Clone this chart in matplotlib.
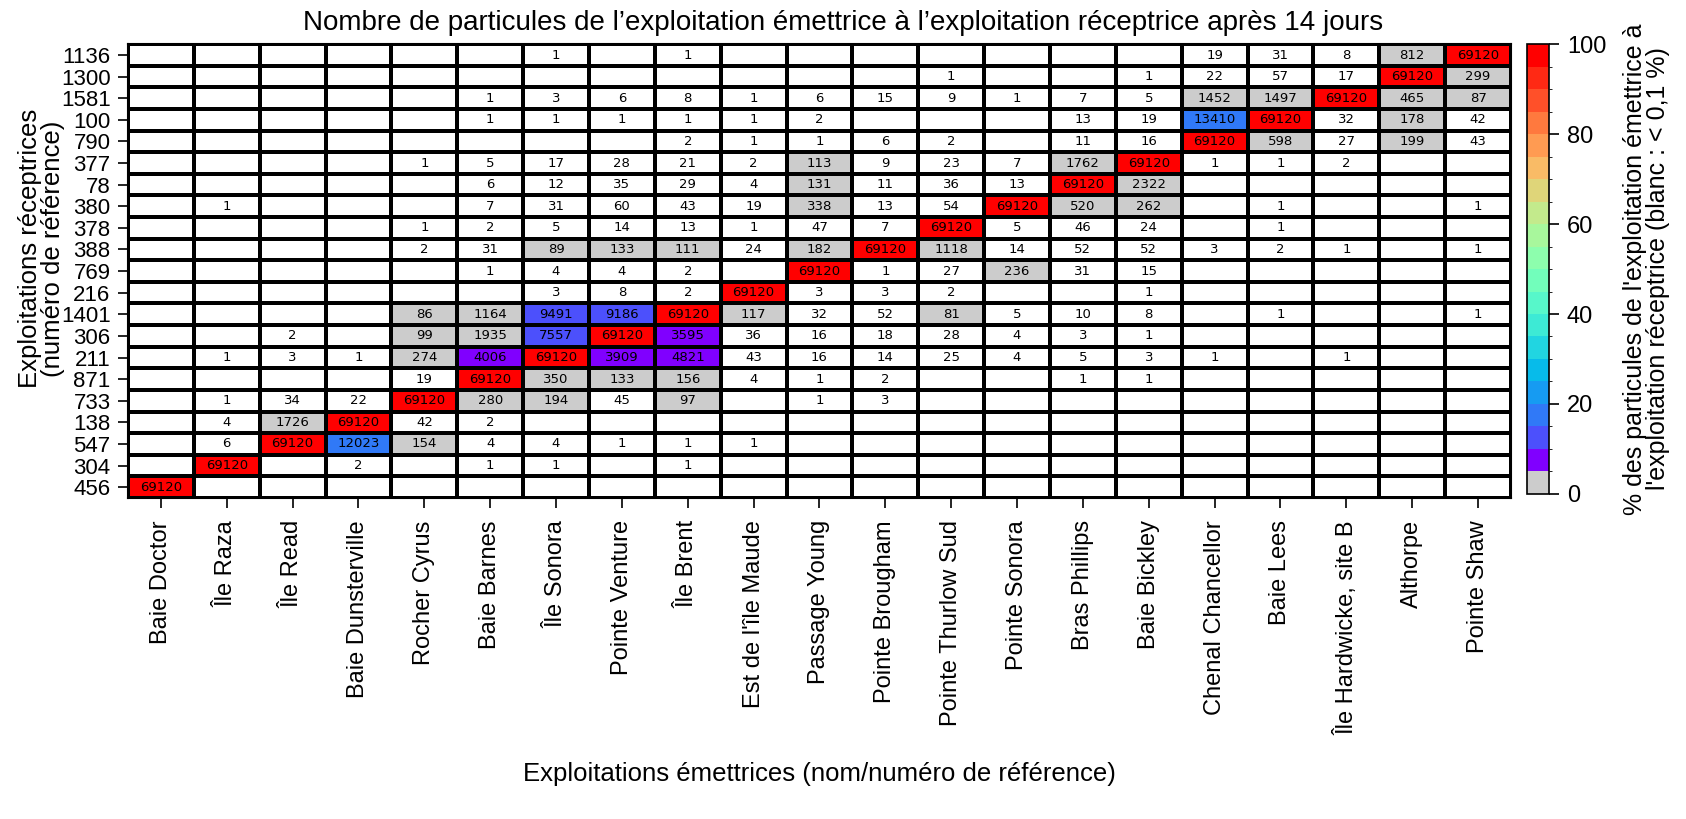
import numpy as np
import matplotlib
matplotlib.use('Agg')
import matplotlib.pyplot as plt
from matplotlib.colors import ListedColormap, BoundaryNorm

plt.rcParams['font.family'] = ['Liberation Sans', 'DejaVu Sans']

# Exploitations émettrices (colonnes)
emettrices = ['Baie Doctor', 'Île Raza', 'Île Read', 'Baie Dunsterville', 'Rocher Cyrus',
              'Baie Barnes', 'Île Sonora', 'Pointe Venture', 'Île Brent', "Est de l'île Maude",
              'Passage Young', 'Pointe Brougham', 'Pointe Thurlow Sud', 'Pointe Sonora',
              'Bras Phillips', 'Baie Bickley', 'Chenal Chancellor', 'Baie Lees',
              'Île Hardwicke, site B', 'Althorpe', 'Pointe Shaw']

# Exploitations réceptrices (lignes, de haut en bas)
receptrices = ['1136', '1300', '1581', '100', '790', '377', '78', '380', '378', '388', '769',
               '216', '1401', '306', '211', '871', '733', '138', '547', '304', '456']

# nombre de particules lâchées par exploitation
n_lache = 69120

# nombre de particules reçues après 14 jours (0 = aucune)
particules = [
    [0, 0, 0, 0, 0, 0, 1, 0, 1, 0, 0, 0, 0, 0, 0, 0, 19, 31, 8, 812, 69120],
    [0, 0, 0, 0, 0, 0, 0, 0, 0, 0, 0, 0, 1, 0, 0, 1, 22, 57, 17, 69120, 299],
    [0, 0, 0, 0, 0, 1, 3, 6, 8, 1, 6, 15, 9, 1, 7, 5, 1452, 1497, 69120, 465, 87],
    [0, 0, 0, 0, 0, 1, 1, 1, 1, 1, 2, 0, 0, 0, 13, 19, 13410, 69120, 32, 178, 42],
    [0, 0, 0, 0, 0, 0, 0, 0, 2, 1, 1, 6, 2, 0, 11, 16, 69120, 598, 27, 199, 43],
    [0, 0, 0, 0, 1, 5, 17, 28, 21, 2, 113, 9, 23, 7, 1762, 69120, 1, 1, 2, 0, 0],
    [0, 0, 0, 0, 0, 6, 12, 35, 29, 4, 131, 11, 36, 13, 69120, 2322, 0, 0, 0, 0, 0],
    [0, 1, 0, 0, 0, 7, 31, 60, 43, 19, 338, 13, 54, 69120, 520, 262, 0, 1, 0, 0, 1],
    [0, 0, 0, 0, 1, 2, 5, 14, 13, 1, 47, 7, 69120, 5, 46, 24, 0, 1, 0, 0, 0],
    [0, 0, 0, 0, 2, 31, 89, 133, 111, 24, 182, 69120, 1118, 14, 52, 52, 3, 2, 1, 0, 1],
    [0, 0, 0, 0, 0, 1, 4, 4, 2, 0, 69120, 1, 27, 236, 31, 15, 0, 0, 0, 0, 0],
    [0, 0, 0, 0, 0, 0, 3, 8, 2, 69120, 3, 3, 2, 0, 0, 1, 0, 0, 0, 0, 0],
    [0, 0, 0, 0, 86, 1164, 9491, 9186, 69120, 117, 32, 52, 81, 5, 10, 8, 0, 1, 0, 0, 1],
    [0, 0, 2, 0, 99, 1935, 7557, 69120, 3595, 36, 16, 18, 28, 4, 3, 1, 0, 0, 0, 0, 0],
    [0, 1, 3, 1, 274, 4006, 69120, 3909, 4821, 43, 16, 14, 25, 4, 5, 3, 1, 0, 1, 0, 0],
    [0, 0, 0, 0, 19, 69120, 350, 133, 156, 4, 1, 2, 0, 0, 1, 1, 0, 0, 0, 0, 0],
    [0, 1, 34, 22, 69120, 280, 194, 45, 97, 0, 1, 3, 0, 0, 0, 0, 0, 0, 0, 0, 0],
    [0, 4, 1726, 69120, 42, 2, 0, 0, 0, 0, 0, 0, 0, 0, 0, 0, 0, 0, 0, 0, 0],
    [0, 6, 69120, 12023, 154, 4, 4, 1, 1, 1, 0, 0, 0, 0, 0, 0, 0, 0, 0, 0, 0],
    [0, 69120, 0, 2, 0, 1, 1, 0, 1, 0, 0, 0, 0, 0, 0, 0, 0, 0, 0, 0, 0],
    [69120, 0, 0, 0, 0, 0, 0, 0, 0, 0, 0, 0, 0, 0, 0, 0, 0, 0, 0, 0, 0],
]

counts = np.array(particules, dtype=float)
pct = counts / n_lache * 100
pct_masked = np.ma.masked_less(pct, 0.1)

# palette : gris pour 0-5 %, puis arc-en-ciel par pas de 5 %
cols = plt.get_cmap('rainbow')(np.linspace(0, 1, 20))
cols[1] = cols[0]
cols[0] = [0.8, 0.8, 0.8, 1.0]
cmap = ListedColormap(cols)
cmap.set_bad('white')
norm = BoundaryNorm(np.arange(0, 105, 5), cmap.N)

fig = plt.figure(figsize=(16.86, 8.19), dpi=100)
ax = fig.add_axes([0.0759, 0.392, 0.8203, 0.554])
cax = fig.add_axes([0.9057, 0.397, 0.013, 0.549])

nr, nc = counts.shape
mesh = ax.pcolormesh(np.arange(nc + 1), np.arange(nr + 1), pct_masked,
                     cmap=cmap, norm=norm, edgecolors='k', linewidth=1.5)
for i in range(nr + 1):
    ax.axhline(i, color='k', lw=1.5)
for j in range(nc + 1):
    ax.axvline(j, color='k', lw=1.5)
ax.set_xlim(0, nc)
ax.set_ylim(nr, 0)

for i in range(nr):
    for j in range(nc):
        if counts[i, j] > 0:
            ax.text(j + 0.5, i + 0.5, '%d' % counts[i, j], ha='center', va='center',
                    fontsize=9.5, family='DejaVu Sans', color='k')

ax.set_xticks(np.arange(nc) + 0.5)
ax.set_xticklabels(emettrices, rotation=90, fontsize=17)
ax.set_yticks(np.arange(nr) + 0.5)
ax.set_yticklabels(receptrices, fontsize=16)
ax.tick_params(length=7, width=1.2)
ax.tick_params(axis='x', pad=9)
ax.tick_params(axis='y', pad=5.5)
for s in ax.spines.values():
    s.set_linewidth(1.5)

fig.text(0.5, 0.9634,
         "Nombre de particules de l’exploitation émettrice à l’exploitation réceptrice après 14 jours",
         fontsize=20, ha='center', va='baseline')
ax.set_ylabel('Exploitations réceptrices\n(numéro de référence)', fontsize=18.5, linespacing=0.95)
ax.yaxis.set_label_coords(-0.0456, 0.55)
fig.text(0.486, 0.055, 'Exploitations émettrices (nom/numéro de référence)', fontsize=18.5,
         ha='center', va='center')

cb = fig.colorbar(mesh, cax=cax, ticks=[0, 20, 40, 60, 80, 100])
cb.ax.tick_params(labelsize=17, length=7, width=1.2, pad=6)
cb.outline.set_linewidth(1.2)
cb.set_label("% des particules de l'exploitation émettrice à\nl'exploitation réceptrice (blanc : < 0,1 %)",
             fontsize=18, linespacing=0.95, labelpad=12)

fig.savefig('out.png', dpi=100)
